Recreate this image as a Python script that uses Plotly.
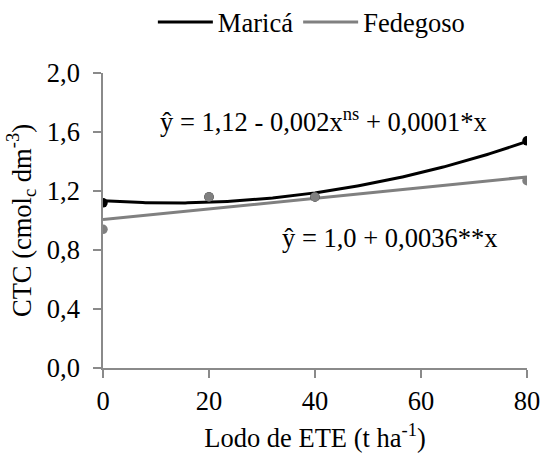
import numpy as np
import plotly.graph_objects as go

# Sewage sludge doses (t/ha) and CEC measured in two soils
doses = [0, 20, 40, 80]
marica = [1.12, 1.16, 1.16, 1.54]
fedegoso = [0.94, 1.16, 1.16, 1.27]

x_ticks = [0, 20, 40, 60, 80]
y_ticks = [0.0, 0.4, 0.8, 1.2, 1.6, 2.0]
y_tick_text = ["0,0", "0,4", "0,8", "1,2", "1,6", "2,0"]

eq_marica = "ŷ = 1,12 - 0,002x<sup>ns</sup> + 0,0001*x"
eq_fedegoso = "ŷ = 1,0 + 0,0036**x"

BLACK = "#000000"
GRAY = "#808080"
AXIS = "#8a8a8a"
FONT = "'Liberation Serif', 'Times New Roman', Times, serif"
FS = 26.5

# regression curves fitted to the measured values
xs = np.linspace(0, 80, 161)
fit_m = np.polyval(np.polyfit(doses, marica, 2), xs)
fit_f = np.polyval(np.polyfit(doses, fedegoso, 1), xs)

fig = go.Figure()
fig.add_trace(go.Scatter(x=xs, y=fit_m, mode="lines", name="Maricá",
                         line=dict(color=BLACK, width=3)))
fig.add_trace(go.Scatter(x=xs, y=fit_f, mode="lines", name="Fedegoso",
                         line=dict(color=GRAY, width=3)))
fig.add_trace(go.Scatter(x=doses, y=marica, mode="markers", showlegend=False,
                         marker=dict(color=BLACK, size=9.5)))
fig.add_trace(go.Scatter(x=doses, y=fedegoso, mode="markers", showlegend=False,
                         marker=dict(color=GRAY, size=9.5)))

fig.add_annotation(x=10.4, y=1.68, xref="x", yref="y", text=eq_marica,
                   showarrow=False, xanchor="left", yanchor="middle",
                   font=dict(size=FS, color=BLACK, family=FONT))
fig.add_annotation(x=33.4, y=0.88, xref="x", yref="y", text=eq_fedegoso,
                   showarrow=False, xanchor="left", yanchor="middle",
                   font=dict(size=FS, color=BLACK, family=FONT))

fig.update_layout(
    width=544, height=453,
    margin=dict(l=103, r=17, t=73, b=85, autoexpand=False),
    paper_bgcolor="white", plot_bgcolor="white",
    font=dict(family=FONT, size=FS, color=BLACK),
    legend=dict(orientation="h", xref="container", yref="container",
                x=0.281, y=0.951, xanchor="left", yanchor="middle",
                font=dict(size=FS, family=FONT), itemwidth=55,
                bgcolor="rgba(0,0,0,0)"),
    xaxis=dict(range=[0, 80], tickvals=x_ticks, showgrid=False, zeroline=False,
               automargin=False,
               showline=True, linecolor=AXIS, linewidth=1.5,
               ticks="outside", ticklen=8, tickcolor=AXIS, tickwidth=1.5,
               ticklabelstandoff=0, tickfont=dict(size=FS, family=FONT),
               title=dict(text="Lodo de ETE (t ha<sup>-1</sup>)", standoff=16,
                          font=dict(size=FS, family=FONT))),
    yaxis=dict(range=[0, 2.0], tickvals=y_ticks, ticktext=y_tick_text,
               showgrid=False, zeroline=False, automargin=False,
               showline=True, linecolor=AXIS, linewidth=1.5,
               ticks="outside", ticklen=8, tickcolor=AXIS, tickwidth=1.5,
               ticklabelstandoff=8, tickfont=dict(size=FS, family=FONT),
               title=dict(text="CTC (cmol<sub>c</sub> dm<sup>-3</sup>)",
                          standoff=8, font=dict(size=FS, family=FONT))),
)

fig.write_html("out.html")
